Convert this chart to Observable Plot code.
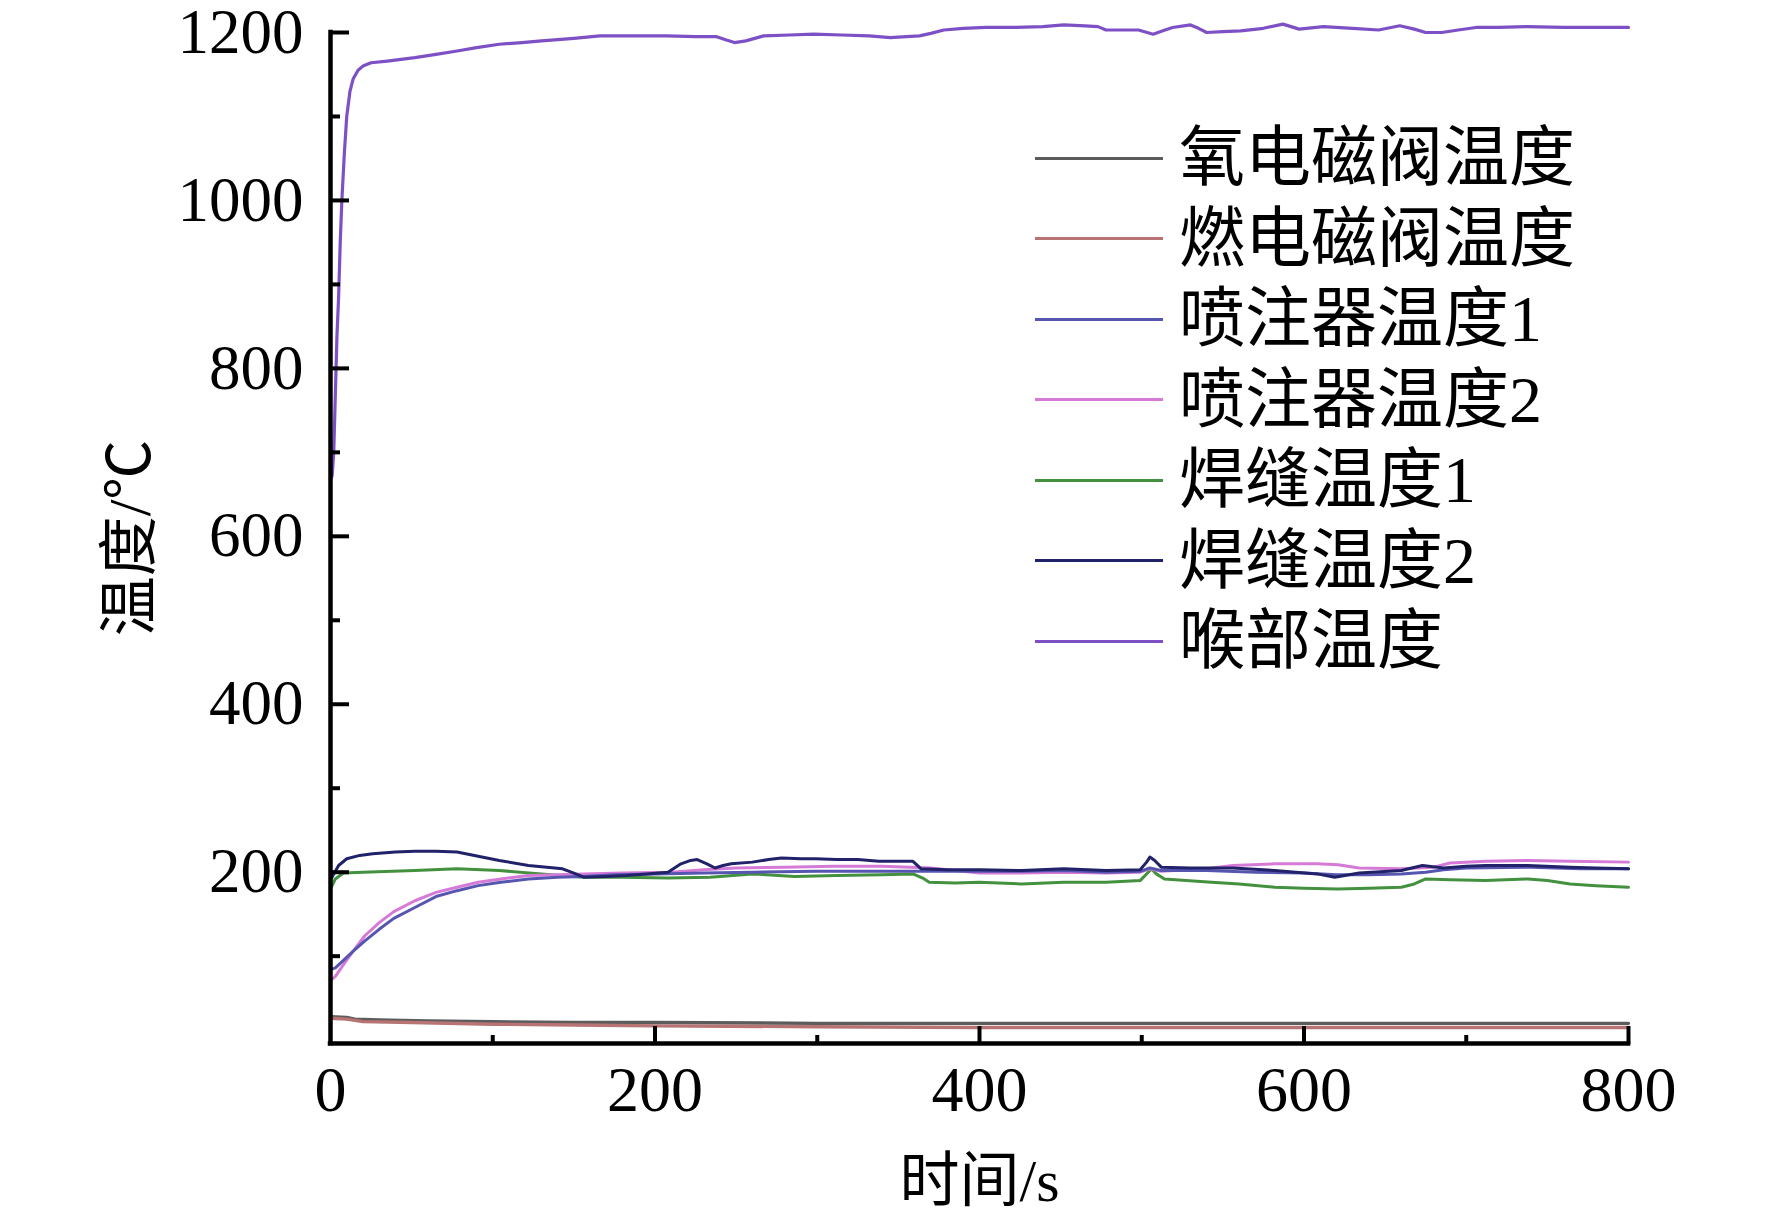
<!DOCTYPE html>
<html>
<head>
<meta charset="utf-8">
<script src="https://cdn.jsdelivr.net/npm/d3@7"></script>
<script src="https://cdn.jsdelivr.net/npm/@observablehq/plot@0.6"></script>
<style>
  html, body { margin: 0; padding: 0; background: #fff; }
  #wrap { position: relative; width: 1772px; height: 1220px; }
  #legend { position: absolute; left: 1035px; top: 118px; font-family: "Liberation Serif", "Noto Sans CJK SC", serif; font-size: 66px; color: #000; }
  .row { display: flex; align-items: center; height: 80.5px; }
  .sw { width: 128px; height: 0; border-top: 3px solid #000; margin-right: 16px; }
  .lab { line-height: 1; white-space: nowrap; }
</style>
</head>
<body>
<div id="wrap"><div id="legend"></div></div>
<script>
// ---- Data ----
const seriesNames = ["氧电磁阀温度", "燃电磁阀温度", "喷注器温度1", "喷注器温度2", "焊缝温度1", "焊缝温度2", "喉部温度"];
const seriesColors = ["#5c5c5c", "#b87474", "#5656b0", "#d67ad8", "#43913f", "#22226a", "#7e50c6"];

const oxyTime = [0, 10, 15, 30, 60, 100, 150, 200, 300, 400, 500, 600, 700, 800];
const oxyTemp = [28, 27, 25, 24, 23, 22, 21, 21, 20, 20, 20, 20, 20, 20];

const fuelTime = [0, 10, 20, 50, 100, 150, 200, 300, 400, 500, 600, 700, 800];
const fuelTemp = [26, 25, 22, 21, 19, 18, 17, 16, 15, 15, 15, 15, 15];

const inj1Time = [0, 3, 8, 14, 21, 30, 39, 52, 65, 78, 91, 105, 122, 140, 156, 175, 200, 230, 260, 300, 340, 370, 400, 426, 452, 478, 499, 505, 512, 540, 570, 600, 620, 640, 660, 675, 686, 700, 740, 770, 800];
const inj1Temp = [84, 86, 95, 106, 118, 132, 145, 158, 171, 178, 184, 188, 192, 194, 195, 197, 198, 199, 200, 201, 201, 201, 201, 201, 202, 200, 201, 205, 202, 202, 200, 199, 197, 197, 198, 200, 203, 205, 206, 204, 204];

const inj2Time = [0, 3, 8, 14, 21, 30, 39, 52, 65, 78, 91, 105, 122, 140, 156, 180, 210, 230, 250, 280, 310, 340, 370, 400, 426, 452, 478, 499, 505, 512, 540, 556, 582, 608, 621, 634, 660, 680, 690, 712, 738, 764, 800];
const inj2Temp = [71, 76, 90, 106, 124, 140, 153, 166, 176, 182, 188, 192, 196, 197, 198, 199, 200, 203, 205, 206, 207, 207, 205, 199, 199, 200, 199, 200, 204, 201, 204, 208, 210, 210, 209, 205, 204, 206, 211, 213, 214, 213, 212];

const weld1Time = [0, 3, 8, 20, 52, 78, 104, 130, 156, 180, 208, 234, 260, 286, 312, 340, 359, 365, 369, 385, 400, 426, 452, 478, 499, 504, 506, 509, 514, 543, 560, 582, 600, 621, 640, 660, 668, 675, 690, 712, 738, 750, 764, 780, 800];
const weld1Temp = [180, 192, 199, 200, 202, 204, 202, 198, 194, 194, 193, 194, 198, 195, 196, 197, 198, 193, 188, 187, 188, 186, 188, 188, 190, 200, 204, 198, 192, 188, 186, 182, 181, 180, 181, 182, 186, 192, 191, 190, 192, 190, 186, 184, 182];

const weld2Time = [0, 2, 5, 10, 18, 26, 40, 52, 65, 78, 91, 104, 122, 143, 150, 156, 170, 182, 195, 208, 216, 222, 226, 232, 237, 242, 247, 260, 270, 278, 290, 299, 312, 325, 338, 350, 359, 364, 380, 400, 426, 452, 478, 499, 503, 505, 508, 512, 530, 556, 582, 608, 619, 634, 660, 673, 686, 700, 712, 738, 764, 780, 800];
const weld2Temp = [190, 198, 208, 216, 220, 222, 224, 225, 225, 224, 219, 214, 208, 204, 199, 194, 195, 196, 198, 200, 210, 214, 215, 210, 205, 208, 210, 212, 215, 217, 216, 216, 215, 215, 213, 213, 213, 204, 203, 203, 202, 204, 202, 203, 212, 218, 214, 206, 205, 205, 202, 198, 194, 199, 202, 208, 205, 207, 208, 208, 206, 205, 204];

const throatTime = [0, 1, 2, 3, 4, 5, 6, 7, 8.5, 10, 12, 14, 17, 20, 25, 35, 52, 65, 78, 90, 104, 118, 130, 150, 166, 185, 207, 225, 238, 244, 249, 256, 267, 283, 298, 315, 332, 345, 355, 363, 370, 378, 390, 404, 420, 439, 452, 465, 473, 478, 490, 498, 507, 513, 519, 530, 535, 540, 550, 561, 575, 587, 597, 612, 630, 646, 659, 668, 675, 685, 695, 706, 720, 737, 760, 780, 800];
const throatTemp = [668, 672, 700, 770, 840, 885, 950, 1000, 1055, 1100, 1130, 1145, 1155, 1160, 1164, 1166, 1170, 1174, 1178, 1182, 1186, 1188, 1190, 1193, 1196, 1196, 1196, 1195, 1195, 1191, 1188, 1190, 1196, 1197, 1198, 1197, 1196, 1194, 1195, 1196, 1199, 1203, 1205, 1206, 1206, 1207, 1209, 1208, 1207, 1203, 1203, 1203, 1198, 1202, 1206, 1209, 1205, 1200, 1201, 1202, 1205, 1210, 1204, 1207, 1205, 1203, 1208, 1204, 1200, 1200, 1203, 1206, 1206, 1207, 1206, 1206, 1206];

const xLabelTicks = [0, 200, 400, 600, 800];
const xMajorTicks = [200, 400, 600, 800];
const xMinorTicks = [100, 300, 500, 700];
const yLabelTicks = [200, 400, 600, 800, 1000, 1200];
const yMinorTicks = [100, 300, 500, 700, 900, 1100];
const xTitle = "时间/s";
const yTitle = "温度/℃";

// ---- Build ----
const rows = (t, v) => t.map((x, i) => ({t: x, v: v[i]}));
const series = [
  [oxyTime, oxyTemp], [fuelTime, fuelTemp], [weld1Time, weld1Temp],
  [inj2Time, inj2Temp], [inj1Time, inj1Temp], [weld2Time, weld2Temp], [throatTime, throatTemp]
];
const colorIdx = [0, 1, 4, 3, 2, 5, 6];
const widths = [3.4, 3.4, 3, 3, 3, 3, 3.2];
const serif = '"Liberation Serif", "Noto Sans CJK SC", serif';

const W = 1772, H = 1220, mL = 330, mR = 144, mT = 32, mB = 177;
const plotW = W - mL - mR, plotH = H - mT - mB;

const lineMarks = series.map(([t, v], i) =>
  Plot.line(rows(t, v), {x: "t", y: "v", stroke: seriesColors[colorIdx[i]], strokeWidth: widths[i], strokeLinejoin: "round"})
);

const chart = Plot.plot({
  width: W, height: H,
  marginLeft: mL, marginRight: mR, marginTop: mT, marginBottom: mB,
  x: {domain: [0, 800], label: null},
  y: {domain: [-4, 1200], label: null},
  style: {fontFamily: serif, background: "#fff", color: "#000", overflow: "visible"},
  marks: [
    ...lineMarks,
    Plot.ruleX([0], {stroke: "#000", strokeWidth: 4.5, strokeLinecap: "square"}),
    Plot.ruleY([-4], {stroke: "#000", strokeWidth: 4.5, strokeLinecap: "square"}),
    Plot.axisY(yLabelTicks, {anchor: "left", tickSize: 0, tickPadding: 27, fontSize: 63, fontFamily: serif, tickFormat: d => `${d}`}),
    Plot.axisY(yLabelTicks, {anchor: "right", tickSize: 18, dx: -plotW, strokeWidth: 4, tickFormat: () => ""}),
    Plot.axisY(yMinorTicks, {anchor: "right", tickSize: 9, dx: -plotW, strokeWidth: 4, tickFormat: () => ""}),
    Plot.axisX(xLabelTicks, {anchor: "bottom", tickSize: 0, tickPadding: 22, fontSize: 64, fontFamily: serif, tickFormat: d => `${d}`}),
    Plot.axisX(xMajorTicks, {anchor: "top", tickSize: 18, dy: plotH, strokeWidth: 4, tickFormat: () => ""}),
    Plot.axisX(xMinorTicks, {anchor: "top", tickSize: 9, dy: plotH, strokeWidth: 4, tickFormat: () => ""}),
    Plot.text([xTitle], {text: d => d, frameAnchor: "bottom", lineAnchor: "middle", textAnchor: "middle", dy: 138, fontSize: 60, fontFamily: serif, fill: "#000"}),
    Plot.text([yTitle], {text: d => d, frameAnchor: "left", lineAnchor: "middle", textAnchor: "middle", dx: -200, rotate: -90, fontSize: 60, fontFamily: serif, fill: "#000"})
  ]
});

const wrap = document.getElementById("wrap");
wrap.insertBefore(chart, wrap.firstChild);

const legend = document.getElementById("legend");
seriesNames.forEach((name, i) => {
  const row = document.createElement("div");
  row.className = "row";
  const sw = document.createElement("div");
  sw.className = "sw";
  sw.style.borderTopColor = seriesColors[i];
  const lab = document.createElement("span");
  lab.className = "lab";
  lab.textContent = name;
  row.appendChild(sw);
  row.appendChild(lab);
  legend.appendChild(row);
});
</script>
</body>
</html>
